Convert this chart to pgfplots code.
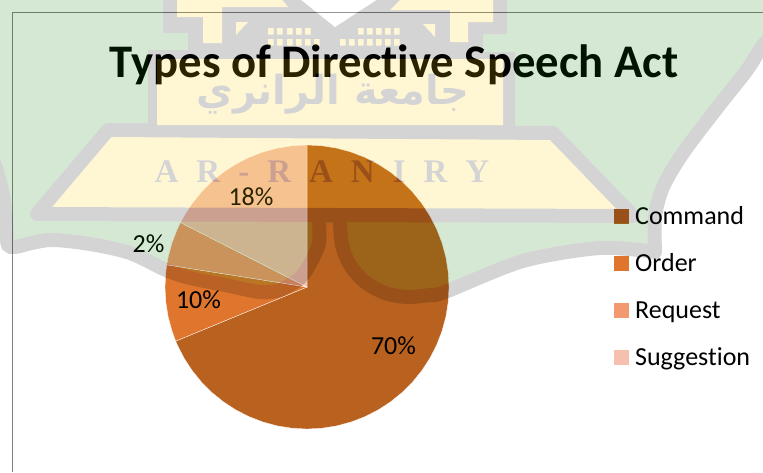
\documentclass[border=0pt]{standalone}
\usepackage{pgfplots}
\pgfplotsset{compat=1.18}
\usepackage{fontspec}
\setmainfont{Carlito}[Ligatures=NoCommon]
\newfontfamily\serifwm{Liberation Serif}
\newfontfamily\arabicfont[Script=Arabic]{DejaVu Sans}
\TeXXeTstate=1
\definecolor{cmd}{RGB}{185,97,31}
\definecolor{ord}{RGB}{224,118,45}
\definecolor{req}{RGB}{242,153,111}
\definecolor{sug}{RGB}{245,193,174}
\definecolor{wgreen}{RGB}{8,120,2}
\definecolor{wyellow}{RGB}{255,208,0}
\definecolor{wgray}{RGB}{0,0,0}
\pgfplotsset{canvas/.style={width=763pt,height=472pt,scale only axis,xmin=0,xmax=763,ymin=0,ymax=472,y dir=reverse,hide axis}}
\newcommand{\win}[2]{\fill[wyellow] (axis cs:#1,#2) rectangle (axis cs:#1+5.5,#2+6.5);}
\begin{document}
\begin{tikzpicture}
\begin{axis}[canvas,
  legend style={at={(axis cs:614,206)},anchor=north west,draw=none,fill=none,inner sep=0pt,outer sep=0pt,row sep=23pt,font=\fontsize{26}{26}\selectfont,
    nodes={inner sep=0pt,text height=18pt,text depth=6pt}},
  legend cell align=left,
  legend image code/.code={\fill[#1,draw=none] (0pt,-6pt) rectangle (15pt,9pt);\path (21pt,0pt);},
]
% slices: Command 70%, Order 10%, Request 2%, Suggestion 18% (as labelled; angles as drawn)
\addplot[fill=cmd,draw=white,line width=.3pt] coordinates {(307,287)(307,145)(321.84,145.78)(336.52,148.10)(350.88,151.95)(364.76,157.28)(378,164.02)(390.47,172.12)(402.02,181.47)(412.53,191.98)(421.88,203.53)(429.98,216)(436.72,229.24)(442.05,242.95)(445.90,257.48)(448.22,272.16)(449,287)(448.22,301.84)(445.90,316.52)(442.05,330.88)(436.72,344.76)(429.98,358)(421.88,370.47)(412.53,382.02)(402.02,392.53)(390.47,401.88)(378,409.98)(364.76,416.72)(350.88,422.05)(336.52,425.90)(321.84,428.22)(307,429)(292.16,428.22)(277.48,425.90)(263.12,422.05)(249.24,416.72)(236,409.98)(223.53,401.88)(211.98,392.53)(201.47,382.02)(192.12,370.47)(184.02,358)(177.28,344.76)(175.72,341.11)} --cycle;
\addplot[fill=ord,draw=white,line width=.3pt] coordinates {(307,287)(175.72,341.11)(171.95,330.88)(168.10,316.52)(165.78,301.84)(165,287)(165.78,272.16)(166.75,264.79)} --cycle;
\addplot[fill=req,draw=white,line width=.3pt] coordinates {(307,287)(166.75,264.79)(168.10,257.48)(171.95,242.95)(177.28,229.24)(180.48,222.53)} --cycle;
\addplot[fill=sug,draw=white,line width=.3pt] coordinates {(307,287)(180.48,222.53)(184.02,216)(192.12,203.53)(201.47,191.98)(211.98,181.47)(223.53,172.12)(236,164.02)(249.24,157.28)(263.12,151.95)(277.48,148.10)(292.16,145.78)(307,145)} --cycle;
\legend{Command,Order,Request,Suggestion}
\draw[gray,line width=.8pt] (axis cs:12,472) -- (axis cs:12,12) -- (axis cs:763,12);
\node[anchor=base,font=\fontsize{46.7}{46.7}\selectfont\bfseries] at (axis cs:394,77) {Types of Directive Speech Act};
\node[anchor=base,font=\fontsize{26}{26}\selectfont] at (axis cs:393.5,354) {70\%};
\node[anchor=base,font=\fontsize{26}{26}\selectfont] at (axis cs:198.5,308) {10\%};
\node[anchor=base,font=\fontsize{26}{26}\selectfont] at (axis cs:148.5,252) {2\%};
\node[anchor=base,font=\fontsize{26}{26}\selectfont] at (axis cs:251,205) {18\%};
\end{axis}
\begin{scope}[transparency group,opacity=.17]
\begin{axis}[canvas]
\addplot[fill=wgreen,draw=none] coordinates {(-5,-5)(770,-5)(770,40)(747,80)(717,110)(683,153)(663,187)(655,217)(655,250)(600,248)(523,261)(445,292)(430,295)(407,297)(385,293)(365,282)(350,265)(342,245)(340,223)(319,223)(319,243)(311,262)(300,278)(280,290)(260,292)(225,285)(190,278)(166,270)(130,253)(90,244)(50,240)(20,246)(8,245)(6,217)(2,190)(-5,165)} --cycle;
\addplot[smooth,draw=wgray,line width=14pt,line cap=round] coordinates {(775,35)(763,45)(747,70)(717,108)(683,153)(663,187)(655,217)(655,250)};
\addplot[smooth,draw=wgray,line width=14pt,line cap=round] coordinates {(655,252)(600,248)(523,261)(445,292)(430,295)(407,297)(385,293)(365,282)(350,265)(342,245)(340,223)};
\addplot[smooth,draw=wgray,line width=14pt,line cap=round] coordinates {(319,223)(319,243)(311,262)(300,278)(280,290)(260,292)(225,285)(190,278)(166,270)(130,253)(90,244)(50,240)(20,246)};
\addplot[smooth,draw=wgray,line width=14pt,line cap=round] coordinates {(20,246)(8,245)(6,217)(2,190)(-5,165)};
\addplot[fill=wyellow,draw=wgray,line width=14pt,line join=round] coordinates {(37,214)(108,130)(553,133)(633,216)} --cycle;
\addplot[fill=wgray,draw=none] coordinates {(163,-5)(163,33)(188,33)(188,50)(148,50)(148,128)(515,128)(515,52)(483,52)(483,34)(507,34)(507,-5)} --cycle;
\addplot[fill=wyellow,draw=none] coordinates {(157,59)(503,59)(503,125)(157,125)} --cycle;
\addplot[fill=wyellow,draw=none] coordinates {(177,-5)(177,17)(203,17)(203,43)(222,43)(222,7)(288,7)(278,-5)} --cycle;
\addplot[fill=wyellow,draw=none] coordinates {(390,10)(405,-5)(493,-5)(493,22)(468,22)(468,42)(450,42)(450,10)} --cycle;
\addplot[fill=wyellow,draw=none] coordinates {(236,22)(248,22)(236,35)} --cycle;
\addplot[fill=wyellow,draw=none] coordinates {(423,24)(435,24)(435,37)} --cycle;
\addplot[fill=white,draw=none] coordinates {(295,-5)(335,27)(384,-5)} --cycle;
\win{268}{28}\win{277}{28}\win{287}{28}\win{296}{28}\win{305}{28}
\win{358}{28}\win{367}{28}\win{376}{28}\win{385}{28}\win{394}{28}
\win{268}{39}\win{277}{39}\win{287}{39}\win{296}{39}\win{305}{39}\win{314}{39}
\win{340}{39}\win{349}{39}\win{358}{39}\win{367}{39}\win{376}{39}\win{385}{39}\win{394}{39}
\node[text=wgray,font=\fontsize{40}{40}\selectfont\bfseries] at (axis cs:333,94) {\arabicfont\beginR جامعة الرانري\endR};
\node[text=wgray,font=\fontsize{33}{33}\selectfont\bfseries] at (axis cs:322,172) {\serifwm\spaceskip=18pt A R - R A N I R Y};
\end{axis}
\end{scope}
\end{tikzpicture}
\end{document}
